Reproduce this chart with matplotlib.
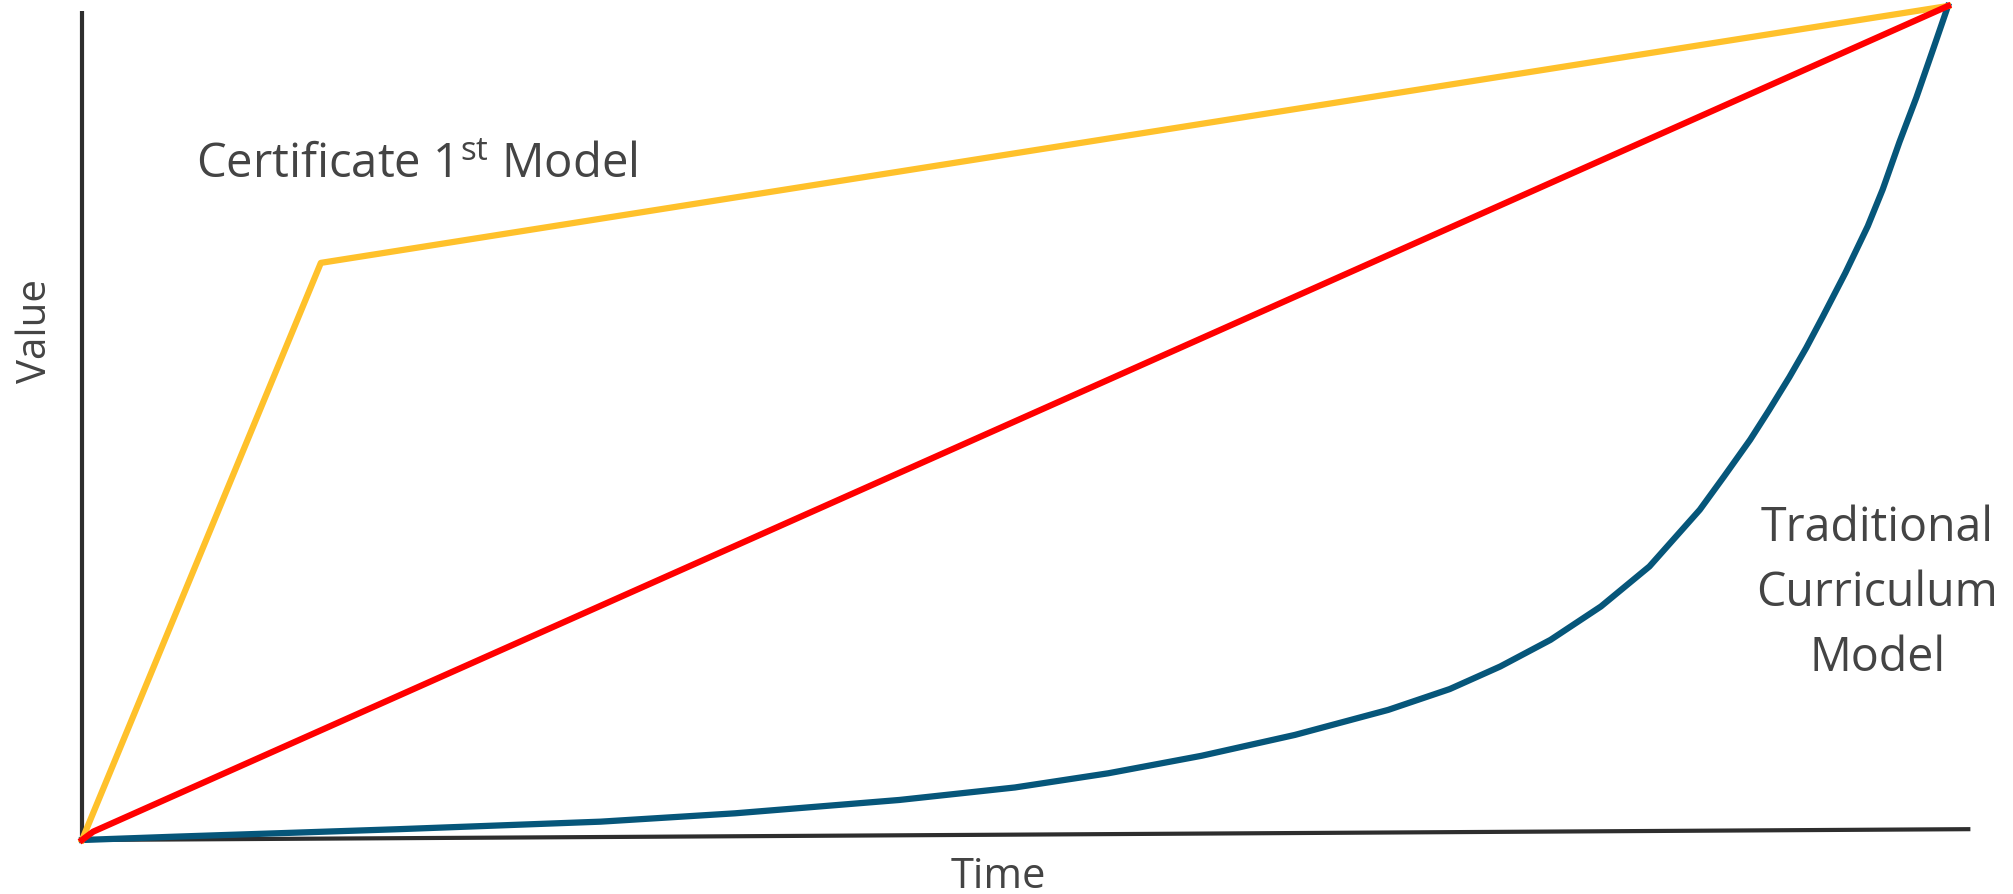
import matplotlib
matplotlib.use("Agg")
import matplotlib.pyplot as plt

plt.rcParams['font.family'] = ['Open Sans', 'DejaVu Sans']

# value-over-time sketches, both axes on a 0..100 scale
cert_time = [0, 12.8, 100]
cert_value = [0, 69.2, 100]

linear_time = [0, 0.6, 100]
linear_value = [0, 1.0, 100]

trad_time = [0, 5, 11.7, 17.0, 27.8, 35, 43.8, 50, 55, 60, 65, 70, 73.3,
             76.0, 78.7, 81.4, 84.0, 86.7, 88.0, 89.4, 90.4, 91.5, 92.4, 93.3,
             94.5, 95.7, 96.5, 97.4, 98.3, 99.2, 100]
trad_value = [0, 0.4, 0.9, 1.3, 2.2, 3.2, 4.8, 6.3, 8.0, 10.1, 12.6, 15.6, 18.1,
              20.8, 24.0, 28.0, 32.8, 39.6, 43.6, 48.0, 51.5, 55.5, 59.0, 62.8,
              68.0, 73.6, 78.0, 83.7, 89.0, 94.8, 100]

W, H = 2013, 895
fig = plt.figure(figsize=(W / 100, H / 100), dpi=100)
ax = fig.add_axes([82 / W, (H - 841) / H, (1948 - 82) / W, (841 - 7) / H])
ax.set_xlim(0, 100)
ax.set_ylim(0, 100)
ax.axis('off')

axis_col = '#2e2e2e'
text_col = '#444444'

# hand-drawn style axes (x axis rises slightly to the right)
ax.plot([0, 0], [0, 99.4], color=axis_col, lw=3, solid_capstyle='butt', clip_on=False, zorder=1)
ax.plot([0, 101.2], [0, 1.3], color=axis_col, lw=3, solid_capstyle='butt', clip_on=False, zorder=1)

ax.plot(cert_time, cert_value, color='#ffc12b', lw=4.5, clip_on=False, zorder=3)
ax.plot(linear_time, linear_value, color='#ff0000', lw=4.5, clip_on=False, zorder=4)
ax.plot(trad_time, trad_value, color='#06567a', lw=4.5, clip_on=False, zorder=2,
        solid_joinstyle='round')

ax.text(6.1, 79.5, r'Certificate 1$^{\mathregular{st}}$ Model',
        fontsize=34, color=text_col, ha='left', va='baseline')
ax.text(96.2, 29.7, 'Traditional\nCurriculum\nModel',
        fontsize=33.5, color=text_col, ha='center', va='center',
        linespacing=1.49, multialignment='center')
fig.text(998 / W, 1 - 888 / H, 'Time', fontsize=30, color=text_col,
         ha='center', va='baseline')
fig.text(36 / W, 1 - 331 / H, 'Value', fontsize=29, color=text_col,
         ha='center', va='center', rotation=90)

fig.savefig('out.png', dpi=100, facecolor='white')
